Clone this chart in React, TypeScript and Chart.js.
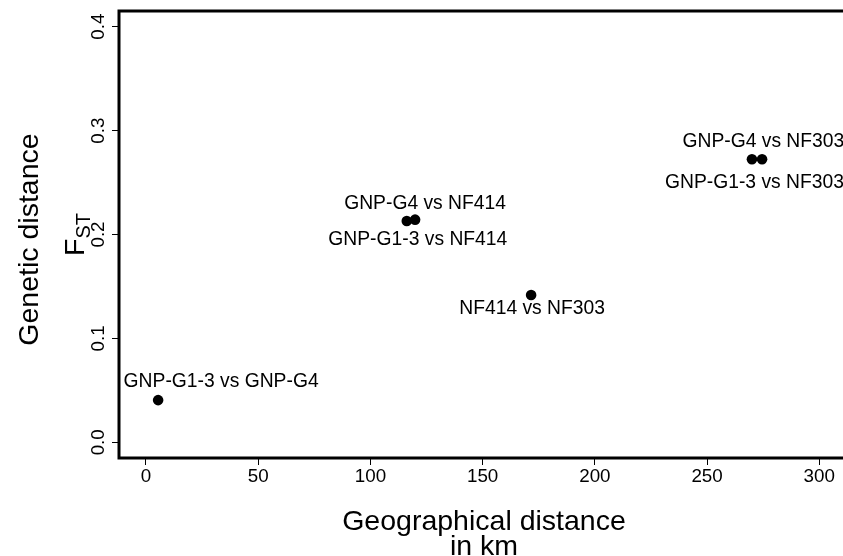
import { useEffect, useRef } from "react";
import { Chart, registerables } from "chart.js";

Chart.register(...registerables);

// ---- data ----
const pairLabels = [
  "GNP-G1-3 vs GNP-G4",
  "GNP-G1-3 vs NF414",
  "GNP-G4 vs NF414",
  "NF414 vs NF303",
  "GNP-G1-3 vs NF303",
  "GNP-G4 vs NF303",
];
const geoDistanceKm = [5.4, 116.2, 119.9, 171.6, 270.0, 274.5];
const geneticFst = [0.0406, 0.213, 0.2143, 0.1418, 0.2724, 0.2724];
const xTickValues = [0, 50, 100, 150, 200, 250, 300];
const yTickValues = [0.0, 0.1, 0.2, 0.3, 0.4];
const yTickText = ["0.0", "0.1", "0.2", "0.3", "0.4"];
const xTitleLines = ["Geographical distance", "in km"];
const yTitleMain = "Genetic distance";
const yTitleSymbol = "F";
const yTitleSub = "ST";

// ---- styles (pixel offsets of the point labels, relative to each point) ----
const LABEL_OFFSETS: [number, number][] = [
  [63, -20],
  [11, 17],
  [10, -18],
  [1, 12],
  [2.5, 22],
  [1.3, -19],
];
const FONT = "'Liberation Sans', Arial, Helvetica, sans-serif";
const LABEL_PX = 19.3;
const TICK_PX = 18.8;
const TITLE_PX = 28.5;

const decorPlugin = {
  id: "decor",
  afterDraw(chart: any) {
    const { ctx, chartArea, scales } = chart;
    const xs = scales.x;
    const ys = scales.y;
    ctx.save();
    // box: top, left, bottom (right side is out of view)
    ctx.strokeStyle = "#000";
    ctx.lineWidth = 3;
    ctx.lineJoin = "miter";
    ctx.lineCap = "square";
    ctx.beginPath();
    ctx.moveTo(chart.width + 5, chartArea.top);
    ctx.lineTo(chartArea.left, chartArea.top);
    ctx.lineTo(chartArea.left, chartArea.bottom);
    ctx.lineTo(chart.width + 5, chartArea.bottom);
    ctx.stroke();

    // y tick labels, rotated
    ctx.fillStyle = "#000";
    ctx.font = `${TICK_PX}px ${FONT}`;
    ctx.textAlign = "center";
    ctx.textBaseline = "alphabetic";
    yTickValues.forEach((v, i) => {
      const py = ys.getPixelForValue(v);
      ctx.save();
      ctx.translate(chartArea.left - 15, py);
      ctx.rotate(-Math.PI / 2);
      ctx.fillText(yTickText[i], 0, 0);
      ctx.restore();
    });

    // point labels
    ctx.font = `${LABEL_PX}px ${FONT}`;
    ctx.textAlign = "center";
    ctx.textBaseline = "alphabetic";
    pairLabels.forEach((lab, i) => {
      const px = xs.getPixelForValue(geoDistanceKm[i]);
      const py = ys.getPixelForValue(geneticFst[i]);
      const [dx, dy] = LABEL_OFFSETS[i];
      ctx.fillText(lab, px + dx, py + dy + 0.358 * LABEL_PX);
    });

    // x title
    ctx.font = `${TITLE_PX}px ${FONT}`;
    const cx = (chartArea.left + chartArea.right) / 2 + 3;
    ctx.fillText(xTitleLines[0], cx, 530);
    ctx.fillText(xTitleLines[1], cx, 555);

    // y title (rotated)
    const cy = (chartArea.top + chartArea.bottom) / 2 + 5;
    ctx.save();
    ctx.translate(38, cy);
    ctx.rotate(-Math.PI / 2);
    ctx.textAlign = "center";
    ctx.fillText(yTitleMain, 0, 0);
    ctx.restore();

    ctx.save();
    ctx.translate(84, cy - 5);
    ctx.rotate(-Math.PI / 2);
    ctx.font = `${TITLE_PX}px ${FONT}`;
    const wF = ctx.measureText(yTitleSymbol).width;
    ctx.font = `${TITLE_PX * 0.7}px ${FONT}`;
    const wS = ctx.measureText(yTitleSub).width;
    const start = -(wF + wS) / 2;
    ctx.textAlign = "left";
    ctx.font = `${TITLE_PX}px ${FONT}`;
    ctx.fillText(yTitleSymbol, start, 0);
    ctx.font = `${TITLE_PX * 0.7}px ${FONT}`;
    ctx.fillText(yTitleSub, start + wF, 6);
    ctx.restore();

    ctx.restore();
  },
};

export default function App() {
  const ref = useRef<HTMLCanvasElement | null>(null);
  useEffect(() => {
    if (!ref.current) return;
    const chart = new Chart(ref.current, {
      type: "scatter",
      data: {
        datasets: [
          {
            label: "Fst vs distance",
            data: geoDistanceKm.map((x, i) => ({ x, y: geneticFst[i] })),
            backgroundColor: "#000",
            borderColor: "#000",
            borderWidth: 0,
            pointRadius: 5.3,
            pointHoverRadius: 5.3,
          },
        ],
      },
      options: {
        animation: false,
        responsive: false,
        devicePixelRatio: 1,
        events: [],
        layout: { autoPadding: false, padding: { top: 11, right: 0, left: 0, bottom: 0 } },
        plugins: {
          legend: { display: false },
          tooltip: { enabled: false },
          title: { display: false },
        },
        scales: {
          x: {
            type: "linear",
            min: -12.03,
            max: 310.57,
            afterFit: (s: any) => {
              s.height = 98;
              s.paddingLeft = 0;
              s.paddingRight = 0;
            },
            afterBuildTicks: (s: any) => {
              s.ticks = xTickValues.map((v) => ({ value: v }));
            },
            ticks: {
              includeBounds: false,
              color: "#000",
              font: { family: FONT, size: TICK_PX },
              padding: 1,
              maxRotation: 0,
              minRotation: 0,
              callback: (v: any) => String(v),
            },
            grid: {
              display: true,
              drawOnChartArea: false,
              drawTicks: true,
              tickLength: 7,
              color: "#000",
              lineWidth: 1,
            },
            border: { display: false },
          },
          y: {
            type: "linear",
            min: -0.0151,
            max: 0.4151,
            afterFit: (s: any) => {
              s.width = 119;
              s.paddingTop = 0;
              s.paddingBottom = 0;
            },
            afterBuildTicks: (s: any) => {
              s.ticks = yTickValues.map((v) => ({ value: v }));
            },
            ticks: { display: false, includeBounds: false },
            grid: {
              display: true,
              drawOnChartArea: false,
              drawTicks: true,
              tickLength: 7,
              color: "#000",
              lineWidth: 1,
            },
            border: { display: false },
          },
        },
      },
      plugins: [decorPlugin],
    });
    return () => chart.destroy();
  }, []);
  return (
    <div style={{ position: "absolute", left: 0, top: 0, width: 843, height: 556, background: "#fff" }}>
      <canvas ref={ref} width={843} height={556} style={{ display: "block" }} />
    </div>
  );
}
